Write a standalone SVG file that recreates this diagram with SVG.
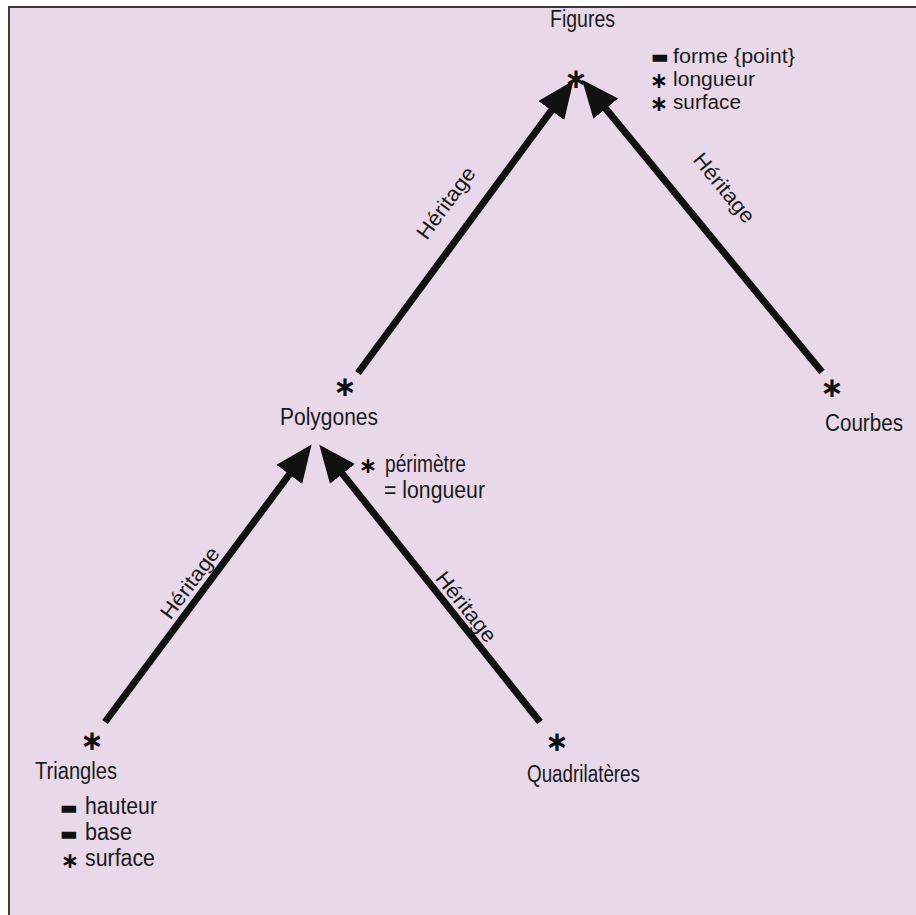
<svg xmlns="http://www.w3.org/2000/svg" width="916" height="915" viewBox="0 0 916 915">
<style>
.t{font-family:"Liberation Sans","Helvetica",Arial,sans-serif;font-size:23px;fill:#1a1a1a}
.s{font-size:20.5px}
.lab{font-family:"Liberation Sans","Helvetica",Arial,sans-serif;font-size:21px;fill:#1a1a1a;text-anchor:middle}
.ast{font-family:"DejaVu Sans",sans-serif;font-size:28px;font-weight:bold;fill:#111;text-anchor:middle}
.la{font-family:"DejaVu Sans",sans-serif;font-size:22px;font-weight:bold;fill:#111;text-anchor:middle}
.dash{font-family:"DejaVu Sans",sans-serif;font-size:19px;fill:#111}
.arr{stroke:#111;stroke-width:7;fill:none;marker-end:url(#head)}
</style>
<defs>
<marker id="head" markerUnits="userSpaceOnUse" markerWidth="40" markerHeight="40" refX="6" refY="0" viewBox="0 -15 30 30" orient="auto">
<path d="M0,-12 L28,0 L0,12 z" fill="#111"/>
</marker>
</defs>
<rect x="0" y="0" width="916" height="915" fill="#ffffff"/>
<rect x="9" y="7" width="930" height="930" fill="#e8d8ea" stroke="#3a3a3a" stroke-width="2"/>

<g id="connectors">
<line class="arr" x1="358" y1="373" x2="556.1" y2="104.1"/>
<line class="arr" x1="822" y1="372" x2="600.7" y2="102.5"/>
<line class="arr" x1="105" y1="722" x2="294.1" y2="468"/>
<line class="arr" x1="540" y1="722" x2="337.5" y2="467.6"/>
<text class="lab" transform="translate(446,203) rotate(-53.6)" y="7" textLength="84" lengthAdjust="spacingAndGlyphs">Héritage</text>
<text class="lab" transform="translate(724,188) rotate(50.6)" y="7" textLength="84" lengthAdjust="spacingAndGlyphs">Héritage</text>
<text class="lab" transform="translate(190,583) rotate(-53.3)" y="7" textLength="84" lengthAdjust="spacingAndGlyphs">Héritage</text>
<text class="lab" transform="translate(466,607) rotate(51.5)" y="7" textLength="84" lengthAdjust="spacingAndGlyphs">Héritage</text>
</g>

<g id="figures">
<text class="t" x="550" y="27" textLength="65" lengthAdjust="spacingAndGlyphs">Figures</text>
<text class="ast" x="576" y="88">∗</text>
<text class="dash" x="651" y="63">▬</text>
<text class="t s" x="673" y="63" textLength="122" lengthAdjust="spacingAndGlyphs">forme {point}</text>
<text class="la" x="659" y="88">∗</text>
<text class="t s" x="673" y="86" textLength="82" lengthAdjust="spacingAndGlyphs">longueur</text>
<text class="la" x="659" y="111">∗</text>
<text class="t s" x="673" y="109" textLength="68" lengthAdjust="spacingAndGlyphs">surface</text>
</g>

<g id="polygones">
<text class="ast" x="345" y="396">∗</text>
<text class="t" x="280" y="425" textLength="98" lengthAdjust="spacingAndGlyphs">Polygones</text>
<text class="la" x="368" y="473">∗</text>
<text class="t" x="385" y="472" textLength="81" lengthAdjust="spacingAndGlyphs">périmètre</text>
<text class="t" x="384" y="498" textLength="101" lengthAdjust="spacingAndGlyphs">= longueur</text>
</g>

<g id="courbes">
<text class="ast" x="832" y="397">∗</text>
<text class="t" x="825" y="431" textLength="78" lengthAdjust="spacingAndGlyphs">Courbes</text>
</g>

<g id="triangles">
<text class="ast" x="92" y="750">∗</text>
<text class="t" x="35" y="779" textLength="82" lengthAdjust="spacingAndGlyphs">Triangles</text>
<text class="dash" x="60" y="814">▬</text>
<text class="t" x="85" y="814" textLength="72" lengthAdjust="spacingAndGlyphs">hauteur</text>
<text class="dash" x="60" y="840">▬</text>
<text class="t" x="85" y="840" textLength="47" lengthAdjust="spacingAndGlyphs">base</text>
<text class="la" x="70" y="868">∗</text>
<text class="t" x="85" y="866" textLength="70" lengthAdjust="spacingAndGlyphs">surface</text>
</g>

<g id="quadrilateres">
<text class="ast" x="557" y="751">∗</text>
<text class="t" x="527" y="782" textLength="113" lengthAdjust="spacingAndGlyphs">Quadrilatères</text>
</g>
</svg>
